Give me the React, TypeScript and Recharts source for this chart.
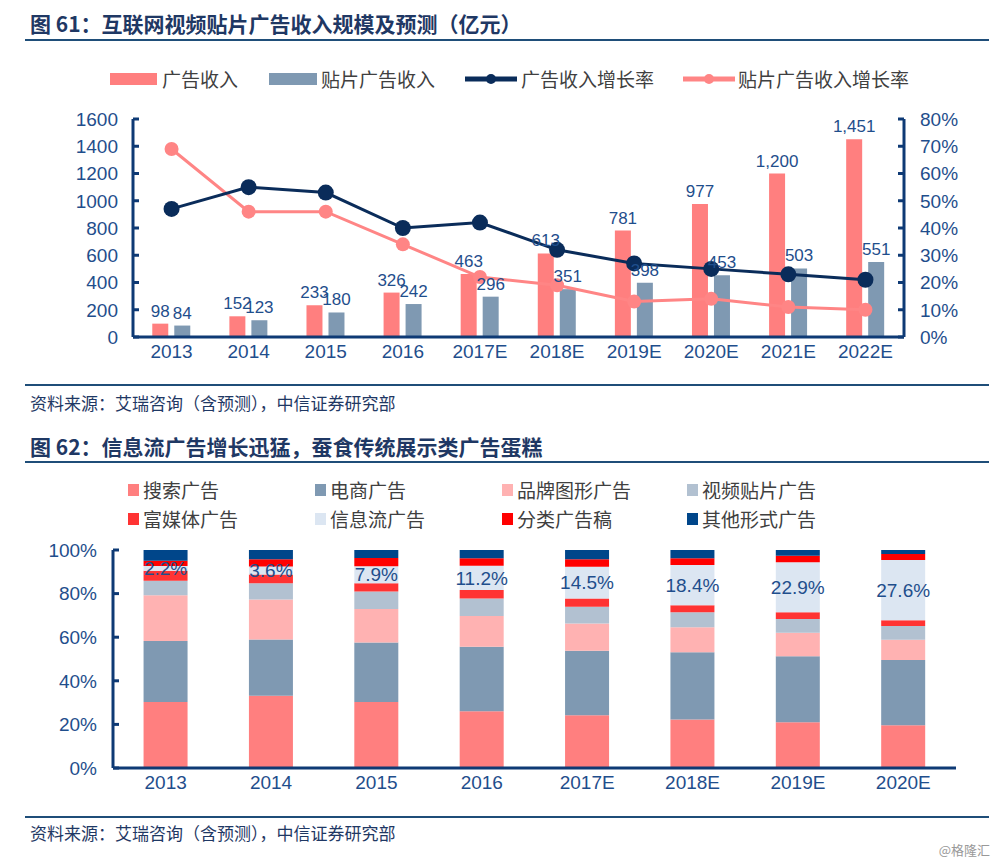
import React from 'react';
import { ComposedChart, BarChart, Bar, Line, XAxis, YAxis, LabelList, Legend } from 'recharts';

// Chart 61 data
const years61 = ['2013', '2014', '2015', '2016', '2017E', '2018E', '2019E', '2020E', '2021E', '2022E'];
const adRevenue = [98, 152, 233, 326, 463, 613, 781, 977, 1200, 1451];
const prerollRevenue = [84, 123, 180, 242, 296, 351, 398, 453, 503, 551];
const adGrowth = [47, 55, 53, 40, 42, 32, 27, 25, 23, 21];
const prerollGrowth = [69, 46, 46, 34, 22, 19, 13, 14, 11, 10];
const leftTicks61 = [0, 200, 400, 600, 800, 1000, 1200, 1400, 1600];
const rightTicks61 = [0, 10, 20, 30, 40, 50, 60, 70, 80];

// Chart 62 data (share, %)
const years62 = ['2013', '2014', '2015', '2016', '2017E', '2018E', '2019E', '2020E'];
const searchAds = [30.3, 33.1, 30.3, 26.0, 24.2, 22.2, 21.0, 19.6];
const ecommerceAds = [27.9, 25.9, 27.3, 29.6, 29.6, 30.9, 30.3, 29.9];
const brandAds = [21.0, 18.3, 15.3, 14.1, 12.5, 11.5, 10.7, 9.3];
const videoAds = [6.7, 7.5, 8.1, 8.1, 7.7, 6.9, 6.3, 6.3];
const richMediaAds = [4.6, 4.0, 3.7, 3.8, 3.8, 3.2, 3.2, 2.7];
const feedAds = [2.2, 3.6, 7.9, 11.2, 14.5, 18.4, 22.9, 27.6];
const classifiedAds = [2.4, 3.3, 3.7, 3.4, 3.4, 3.1, 3.0, 2.8];
const otherAds = [4.9, 4.3, 3.7, 3.8, 4.3, 3.8, 2.6, 1.8];
const ticks62 = [0, 20, 40, 60, 80, 100];

const data61 = years61.map((year, i) => ({
    year,
    ad: adRevenue[i],
    preroll: prerollRevenue[i],
    adGrowth: adGrowth[i],
    prerollGrowth: prerollGrowth[i],
}));

const data62 = years62.map((year, i) => ({
    year,
    search: searchAds[i],
    ecommerce: ecommerceAds[i],
    brand: brandAds[i],
    video: videoAds[i],
    rich: richMediaAds[i],
    feed: feedAds[i],
    classified: classifiedAds[i],
    other: otherAds[i],
}));

const AXIS = '#0E3A75';
const TICK_TEXT = '#1F4E8C';
const TITLE = '#1F3864';
const NUM_FONT = '"Liberation Sans", Arial, sans-serif';
const CJK_FONT = '"Noto Sans CJK SC", "Noto Sans", sans-serif';

const PINK = '#FF7F7F';
const SLATE = '#7F99B2';
const NAVY_LINE = '#0A2C5A';
const PINK_LINE = '#FF8585';

const seriesColors62 = {
    search: '#FF7F7F',
    ecommerce: '#7F99B2',
    brand: '#FFB2B2',
    video: '#B2C1D1',
    rich: '#FF3333',
    feed: '#DCE6F2',
    classified: '#FF0000',
    other: '#00468A',
};

const legend62 = [
    { key: 'search', name: '搜索广告' },
    { key: 'ecommerce', name: '电商广告' },
    { key: 'brand', name: '品牌图形广告' },
    { key: 'video', name: '视频贴片广告' },
    { key: 'rich', name: '富媒体广告' },
    { key: 'feed', name: '信息流广告' },
    { key: 'classified', name: '分类广告稿' },
    { key: 'other', name: '其他形式广告' },
];

// y-axis tick with a short inward tick mark
const makeTick = (axisX: number, dir: 1 | -1, anchor: 'start' | 'end', fmt: (v: number) => string, fontSize: number) =>
    (props: any) => {
        const { x, y, payload } = props;
        return (
            <g>
                <line x1={axisX} x2={axisX + dir * 6} y1={y} y2={y} stroke={AXIS} strokeWidth={3} />
                <text x={x} y={y} dy="0.36em" textAnchor={anchor} fill={TICK_TEXT}
                    fontSize={fontSize} fontFamily={NUM_FONT}>
                    {fmt(payload.value)}
                </text>
            </g>
        );
    };

const Legend61 = () => {
    const textStyle: React.CSSProperties = {
        position: 'absolute', top: 0, fontSize: 19, lineHeight: '24px', color: '#404040', fontFamily: CJK_FONT,
    };
    return (
        <div style={{ position: 'relative', width: 1000, height: 24 }}>
            <div style={{ position: 'absolute', left: 110, top: 6, width: 47, height: 12, background: PINK }} />
            <span style={{ ...textStyle, left: 162 }}>广告收入</span>
            <div style={{ position: 'absolute', left: 269, top: 6, width: 48, height: 12, background: SLATE }} />
            <span style={{ ...textStyle, left: 321 }}>贴片广告收入</span>
            <svg style={{ position: 'absolute', left: 465, top: 0 }} width={52} height={24}>
                <line x1={0} x2={52} y1={12} y2={12} stroke={NAVY_LINE} strokeWidth={5} />
                <circle cx={26} cy={12} r={5} fill={NAVY_LINE} />
            </svg>
            <span style={{ ...textStyle, left: 521 }}>广告收入增长率</span>
            <svg style={{ position: 'absolute', left: 683, top: 0 }} width={52} height={24}>
                <line x1={0} x2={52} y1={12} y2={12} stroke={PINK_LINE} strokeWidth={5} />
                <circle cx={26} cy={12} r={5} fill={PINK_LINE} />
            </svg>
            <span style={{ ...textStyle, left: 738 }}>贴片广告收入增长率</span>
        </div>
    );
};

const Legend62 = () => {
    const cols = [128, 315, 502, 687];
    return (
        <div style={{ position: 'relative', width: 1000, height: 60 }}>
            {legend62.map((item, i) => {
                const left = cols[i % 4];
                const top = i < 4 ? 0 : 29;
                return (
                    <div key={item.key}>
                        <div style={{
                            position: 'absolute', left, top: top + 7, width: 11, height: 12,
                            background: (seriesColors62 as any)[item.key],
                        }} />
                        <span style={{
                            position: 'absolute', left: left + 15, top, fontSize: 19, lineHeight: '26px',
                            color: '#404040', fontFamily: CJK_FONT, whiteSpace: 'nowrap',
                        }}>{item.name}</span>
                    </div>
                );
            })}
        </div>
    );
};

const Rule = ({ top }: { top: number }) => (
    <div style={{ position: 'absolute', left: 25, top, width: 964, height: 2, background: '#1F4E79' }} />
);

const textAt = (top: number, text: string, size: number, bold = false) => (
    <div style={{
        position: 'absolute', left: 30, top, fontSize: size, lineHeight: `${size + 2}px`,
        fontWeight: bold ? 700 : 400, color: TITLE, fontFamily: CJK_FONT, whiteSpace: 'nowrap',
    }}>{text}</div>
);

const fmtThousands = (v: any) => Number(v).toLocaleString('en-US');
const fmtPct = (v: any) => `${Number(v).toFixed(1)}%`;

export default function App() {
    return (
        <div style={{ position: 'absolute', left: 0, top: 0, width: 1000, height: 862, background: '#fff', overflow: 'hidden' }}>
            {textAt(12, '图 61：互联网视频贴片广告收入规模及预测（亿元）', 21, true)}
            <Rule top={39} />

            <div style={{ position: 'absolute', left: 0, top: 0 }}>
                <ComposedChart width={1000} height={380} data={data61}
                    margin={{ top: 119, right: 0, bottom: 13, left: 0 }}
                    barCategoryGap="25%" barGap={6}>
                    <XAxis dataKey="year" axisLine={{ stroke: AXIS, strokeWidth: 3 }} tickLine={false}
                        tickSize={0} tickMargin={8} height={30} interval={0}
                        tick={{ fill: TICK_TEXT, fontSize: 19, fontFamily: NUM_FONT }} />
                    <YAxis yAxisId="left" orientation="left" width={133} domain={[0, 1600]} ticks={leftTicks61}
                        axisLine={{ stroke: AXIS, strokeWidth: 3 }} tickLine={false} tickSize={0} tickMargin={15}
                        tick={makeTick(133, 1, 'end', (v) => String(v), 19)} />
                    <YAxis yAxisId="right" orientation="right" width={96} domain={[0, 80]} ticks={rightTicks61}
                        axisLine={{ stroke: AXIS, strokeWidth: 3 }} tickLine={false} tickSize={0} tickMargin={16}
                        tick={makeTick(904, -1, 'start', (v) => `${v}%`, 19)} />
                    <Legend layout="horizontal" verticalAlign="middle" align="center"
                        wrapperStyle={{ top: 67, left: 0, width: 1000 }} content={() => <Legend61 />} />
                    <Bar yAxisId="left" dataKey="ad" name="广告收入" fill={PINK} isAnimationActive={false}>
                        <LabelList dataKey="ad" position="top" offset={7} fill={TICK_TEXT} fontSize={17}
                            fontFamily={NUM_FONT} formatter={fmtThousands} />
                    </Bar>
                    <Bar yAxisId="left" dataKey="preroll" name="贴片广告收入" fill={SLATE} isAnimationActive={false}>
                        <LabelList dataKey="preroll" position="top" offset={7} fill={TICK_TEXT} fontSize={17}
                            fontFamily={NUM_FONT} formatter={fmtThousands} />
                    </Bar>
                    <Line yAxisId="right" dataKey="prerollGrowth" name="贴片广告收入增长率" stroke={PINK_LINE}
                        strokeWidth={3} dot={{ r: 7, fill: PINK_LINE, stroke: PINK_LINE, strokeWidth: 0 }}
                        type="linear" isAnimationActive={false} />
                    <Line yAxisId="right" dataKey="adGrowth" name="广告收入增长率" stroke={NAVY_LINE}
                        strokeWidth={3} dot={{ r: 8, fill: NAVY_LINE, stroke: NAVY_LINE, strokeWidth: 0 }}
                        type="linear" isAnimationActive={false} />
                </ComposedChart>
            </div>

            <Rule top={384} />
            {textAt(393, '资料来源：艾瑞咨询（含预测），中信证券研究部', 17)}

            {textAt(435, '图 62：信息流广告增长迅猛，蚕食传统展示类广告蛋糕', 21, true)}
            <Rule top={461} />

            <div style={{ position: 'absolute', left: 0, top: 470 }}>
                <BarChart width={1000} height={340} data={data62}
                    margin={{ top: 80, right: 44, bottom: 12, left: 0 }} barCategoryGap="29%">
                    <XAxis dataKey="year" axisLine={{ stroke: AXIS, strokeWidth: 3 }} tickLine={false}
                        tickSize={0} tickMargin={8} height={30} interval={0}
                        tick={{ fill: TICK_TEXT, fontSize: 19, fontFamily: NUM_FONT }} />
                    <YAxis width={113} domain={[0, 100]} ticks={ticks62} allowDataOverflow
                        axisLine={{ stroke: AXIS, strokeWidth: 3 }} tickLine={false} tickSize={0} tickMargin={16}
                        tick={makeTick(113, 1, 'end', (v) => `${v}%`, 19)} />
                    <Legend layout="horizontal" verticalAlign="middle" align="center"
                        wrapperStyle={{ top: 7, left: 0, width: 1000 }} content={() => <Legend62 />} />
                    <Bar dataKey="search" stackId="s" fill={seriesColors62.search} isAnimationActive={false} />
                    <Bar dataKey="ecommerce" stackId="s" fill={seriesColors62.ecommerce} isAnimationActive={false} />
                    <Bar dataKey="brand" stackId="s" fill={seriesColors62.brand} isAnimationActive={false} />
                    <Bar dataKey="video" stackId="s" fill={seriesColors62.video} isAnimationActive={false} />
                    <Bar dataKey="rich" stackId="s" fill={seriesColors62.rich} isAnimationActive={false} />
                    <Bar dataKey="feed" stackId="s" fill={seriesColors62.feed} isAnimationActive={false}>
                        <LabelList dataKey="feed" position="center" fill={TICK_TEXT} fontSize={19}
                            fontFamily={NUM_FONT} formatter={fmtPct} />
                    </Bar>
                    <Bar dataKey="classified" stackId="s" fill={seriesColors62.classified} isAnimationActive={false} />
                    <Bar dataKey="other" stackId="s" fill={seriesColors62.other} isAnimationActive={false} />
                </BarChart>
            </div>

            <Rule top={816} />
            {textAt(823, '资料来源：艾瑞咨询（含预测），中信证券研究部', 17)}
            <div style={{
                position: 'absolute', right: 10, top: 840, fontSize: 13, color: '#999', fontFamily: CJK_FONT,
            }}>@格隆汇</div>
        </div>
    );
}
